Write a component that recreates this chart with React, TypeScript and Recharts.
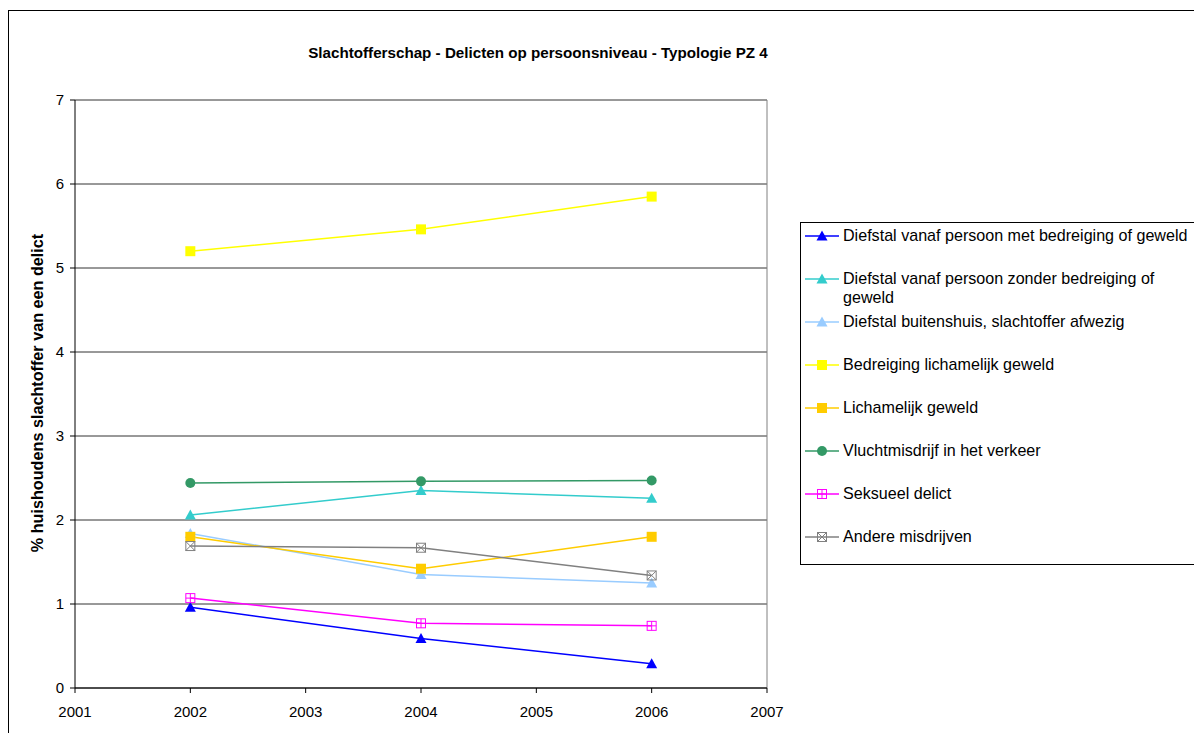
import React from "react";
import {
  LineChart,
  Line,
  XAxis,
  YAxis,
  CartesianGrid,
  ReferenceLine,
} from "recharts";

// Victimisation rates per offence type, survey years 2002 / 2004 / 2006
const years = [2002, 2004, 2006];
const xTicks = [2001, 2002, 2003, 2004, 2005, 2006, 2007];
const yTicks = [0, 1, 2, 3, 4, 5, 6, 7];

const diefstalMetGeweld = [0.96, 0.59, 0.29];
const diefstalZonderGeweld = [2.06, 2.35, 2.26];
const diefstalBuitenshuis = [1.84, 1.35, 1.25];
const bedreiging = [5.2, 5.46, 5.85];
const lichamelijkGeweld = [1.8, 1.42, 1.8];
const vluchtmisdrijf = [2.44, 2.46, 2.47];
const seksueelDelict = [1.07, 0.77, 0.74];
const andereMisdrijven = [1.69, 1.67, 1.34];

const seriesNames = [
  "Diefstal vanaf persoon met bedreiging of geweld",
  "Diefstal vanaf persoon zonder bedreiging of\ngeweld",
  "Diefstal buitenshuis, slachtoffer afwezig",
  "Bedreiging lichamelijk geweld",
  "Lichamelijk geweld",
  "Vluchtmisdrijf in het verkeer",
  "Seksueel delict",
  "Andere misdrijven",
];

const seriesValues = [
  diefstalMetGeweld,
  diefstalZonderGeweld,
  diefstalBuitenshuis,
  bedreiging,
  lichamelijkGeweld,
  vluchtmisdrijf,
  seksueelDelict,
  andereMisdrijven,
];

const colors = ["#0000FF", "#33CCCC", "#99CCFF", "#FFFF00", "#FFCC00", "#339966", "#FF00FF", "#808080"];
const shapes = ["triangle", "triangle", "triangle", "square", "square", "circle", "plus", "cross"];

const data = years.map((year, i) => {
  const row: Record<string, number> = { year };
  seriesValues.forEach((vals, s) => {
    row[`s${s}`] = vals[i];
  });
  return row;
});

const FONT = '"Liberation Sans", Arial, sans-serif';

function Marker({ cx, cy, shape, color }: { cx: number; cy: number; shape: string; color: string }) {
  if (shape === "triangle") {
    return <polygon points={`${cx},${cy - 5.5} ${cx + 5.5},${cy + 4.5} ${cx - 5.5},${cy + 4.5}`} fill={color} />;
  }
  if (shape === "square") {
    return <rect x={cx - 5} y={cy - 5} width={10} height={10} fill={color} />;
  }
  if (shape === "circle") {
    return <circle cx={cx} cy={cy} r={5} fill={color} />;
  }
  if (shape === "plus") {
    return (
      <g stroke={color} strokeWidth={1} fill="none">
        <rect x={cx - 4.5} y={cy - 4.5} width={9} height={9} />
        <line x1={cx} y1={cy - 4.5} x2={cx} y2={cy + 4.5} />
        <line x1={cx - 4.5} y1={cy} x2={cx + 4.5} y2={cy} />
      </g>
    );
  }
  return (
    <g stroke={color} strokeWidth={1} fill="none">
      <rect x={cx - 4.5} y={cy - 4.5} width={9} height={9} />
      <line x1={cx - 4.5} y1={cy - 4.5} x2={cx + 4.5} y2={cy + 4.5} />
      <line x1={cx - 4.5} y1={cy + 4.5} x2={cx + 4.5} y2={cy - 4.5} />
    </g>
  );
}

export default function App() {
  return (
    <div style={{ position: "fixed", left: 0, top: 0, width: "100vw", height: "100vh", overflow: "hidden", background: "#fff" }}>
      <div
        style={{
          position: "absolute",
          left: 8,
          top: 10,
          width: 1200,
          height: 730,
          border: "1px solid #000",
          fontFamily: FONT,
        }}
      >
        {/* title */}
        <div
          style={{
            position: "absolute",
            left: 529,
            top: 33,
            transform: "translateX(-50%)",
            whiteSpace: "nowrap",
            fontWeight: "bold",
            fontSize: 15.2,
          }}
        >
          Slachtofferschap - Delicten op persoonsniveau - Typologie PZ 4
        </div>

        {/* y axis title */}
        <div
          style={{
            position: "absolute",
            left: 28,
            top: 382,
            transform: "translate(-50%, -50%) rotate(-90deg)",
            whiteSpace: "nowrap",
            fontWeight: "bold",
            fontSize: 16.2,
          }}
        >
          % huishoudens slachtoffer van een delict
        </div>

        <LineChart
          width={1200}
          height={725}
          data={data}
          margin={{ top: 89, right: 442, left: 16, bottom: 8 }}
        >
          <CartesianGrid horizontal vertical={false} stroke="#333" />
          <XAxis
            dataKey="year"
            type="number"
            domain={[2001, 2007]}
            ticks={xTicks}
            height={40}
            tickSize={5}
            tickMargin={13}
            stroke="#000"
            tick={{ fill: "#000", fontSize: 15, fontFamily: FONT }}
          />
          <YAxis
            domain={[0, 7]}
            ticks={yTicks}
            width={50}
            tickSize={5}
            tickMargin={6}
            stroke="#000"
            tick={{ fill: "#000", fontSize: 15, fontFamily: FONT }}
          />
          <ReferenceLine x={2007} stroke="#808080" />
          {seriesValues.map((_, s) => (
            <Line
              key={s}
              type="linear"
              dataKey={`s${s}`}
              stroke={colors[s]}
              strokeWidth={1.5}
              isAnimationActive={false}
              dot={(props: any) => (
                <Marker key={`d${s}-${props.index}`} cx={props.cx} cy={props.cy} shape={shapes[s]} color={colors[s]} />
              )}
            />
          ))}
        </LineChart>

        {/* legend */}
        <div
          style={{
            position: "absolute",
            left: 791,
            top: 211,
            width: 420,
            height: 341,
            border: "1px solid #000",
            background: "#fff",
          }}
        >
          {seriesNames.map((name, s) => (
            <div key={s} style={{ position: "absolute", left: 0, top: 13 + 43 * s - 10, height: 20 }}>
              <svg width={40} height={20} style={{ position: "absolute", left: 2, top: 0 }}>
                <line x1={2} y1={10} x2={36} y2={10} stroke={colors[s]} strokeWidth={1.5} />
                <Marker cx={19} cy={10} shape={shapes[s]} color={colors[s]} />
              </svg>
              <div
                style={{
                  position: "absolute",
                  left: 42,
                  top: 0,
                  fontSize: 16.1,
                  lineHeight: "19px",
                  whiteSpace: "pre",
                }}
              >
                {name}
              </div>
            </div>
          ))}
        </div>
      </div>
    </div>
  );
}
